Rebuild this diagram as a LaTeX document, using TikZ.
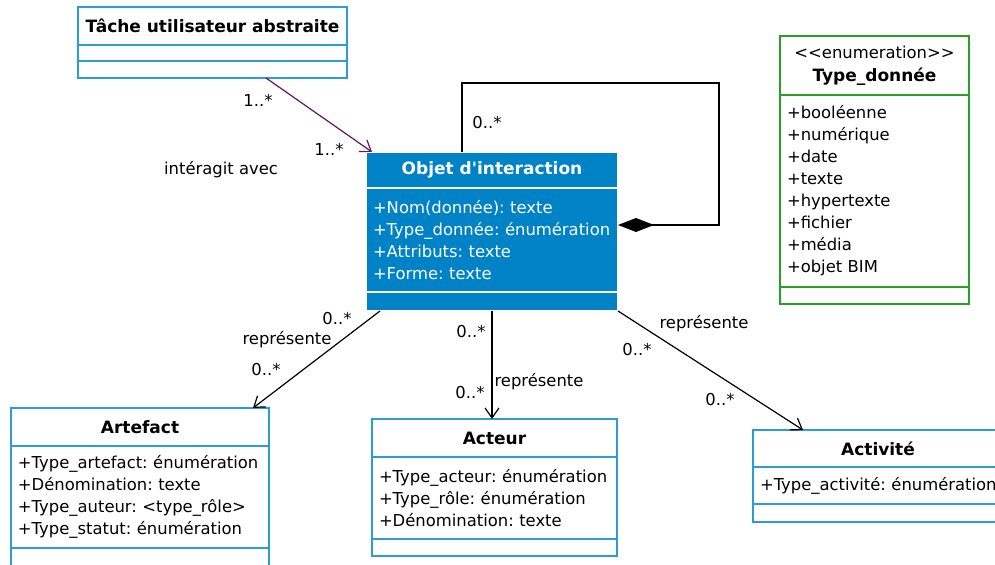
\documentclass[tikz,border=0pt]{standalone}
\usepackage{fontspec}
\setmainfont{DejaVu Sans}[Ligatures=TeXOff]
\usetikzlibrary{positioning,arrows.meta}

\definecolor{umlblue}{RGB}{45,155,215}
\definecolor{objblue}{RGB}{0,130,198}
\definecolor{enumgreen}{RGB}{40,160,40}
\definecolor{assocpurple}{RGB}{100,20,100}
\newcommand{\umlsize}{\fontsize{8.2}{11}\selectfont}
\newcommand{\headsize}{\fontsize{8.5}{11.5}\selectfont}

\begin{document}
\begin{tikzpicture}[x=0.5pt, y=-0.5pt, font=\umlsize,
    box/.style={draw=umlblue, line width=0.8pt, rectangle, inner sep=0pt, outer sep=0pt},
    head/.style={box, font=\headsize\bfseries, align=center},
    attrs/.style={box, align=left, inner xsep=3.5pt, execute at begin node={\hyphenpenalty=10000\exhyphenpenalty=10000}},
    objbox/.style={fill=objblue, draw=white, text=white},
    assoc/.style={line width=0.6pt, -{Straight Barb[length=5pt, width=7pt]}}]
    \useasboundingbox (0,0) rectangle (995,565);
    \clip (0,0) rectangle (995,565);

    \node[head, anchor=north west, minimum width=134.5pt, minimum height=19pt] (tache) at (78,7) {Tâche utilisateur abstraite};
    \node[box, below=0pt of tache, minimum width=134.5pt, minimum height=8pt] (tacheattr) {};
    \node[box, below=0pt of tacheattr, minimum width=134.5pt, minimum height=8.5pt] (tacheops) {};

    \node[head, objbox, anchor=north west, minimum width=126pt, minimum height=18pt] (objet) at (366,152) {Objet d'interaction};
    \node[attrs, objbox, below=0pt of objet, text width=119pt, minimum height=52pt] (objetattr) {+Nom(donnée):~texte\\+Type\_donnée:~énumération\\+Attributs:~texte\\+Forme:~texte};
    \node[box, objbox, below=0pt of objetattr, minimum width=126pt, minimum height=9.5pt] (objetops) {};

    \node[head, draw=enumgreen, anchor=north west, minimum width=94.5pt, minimum height=29.5pt] (typedonnee) at (780,36) {{\umlsize\mdseries <\kern0pt<enumeration>\kern0pt>}\\Type\_donnée};
    \node[attrs, draw=enumgreen, below=0pt of typedonnee, text width=87.5pt, minimum height=96pt] (typeitems) {+booléenne\\+numérique\\+date\\+texte\\+hypertexte\\+fichier\\+média\\+objet~BIM};
    \node[box, draw=enumgreen, below=0pt of typeitems, minimum width=94.5pt, minimum height=8.5pt] (typeops) {};

    \node[head, anchor=north west, minimum width=129pt, minimum height=19pt] (artefact) at (11,408) {Artefact};
    \node[attrs, below=0pt of artefact, text width=122pt, minimum height=51pt] (artefactattr) {+Type\_artefact:~énumération\\+Dénomination:~texte\\+Type\_auteur:~<type\_rôle>\\+Type\_statut:~énumération};
    \node[box, below=0pt of artefactattr, minimum width=129pt, minimum height=11pt] (artefactops) {};

    \node[head, anchor=north west, minimum width=122.5pt, minimum height=19pt] (acteur) at (372,419) {Acteur};
    \node[attrs, below=0pt of acteur, text width=115.5pt, minimum height=41pt] (acteurattr) {+Type\_acteur:~énumération\\+Type\_rôle:~énumération\\+Dénomination:~texte};
    \node[box, below=0pt of acteurattr, minimum width=122.5pt, minimum height=8.5pt] (acteurops) {};

    \node[head, anchor=north west, minimum width=125pt, minimum height=18.5pt] (activite) at (753,430) {Activité};
    \node[attrs, below=0pt of activite, text width=118pt, minimum height=18.5pt] (activiteattr) {+Type\_activité:~énumération};
    \node[box, below=0pt of activiteattr, minimum width=125pt, minimum height=9pt] (activiteops) {};

    \coordinate (loopcorner) at (719,83);
    \draw[line width=0.8pt, -{Diamond[length=18pt, width=7pt]}] ([xshift=48pt]objet.north west) |- (loopcorner) |- ([yshift=7.5pt]objetattr.east);
    \draw[assoc, color=assocpurple] ([xshift=26.75pt]tacheops.south) -- ([xshift=3pt]objet.north west);
    \draw[assoc] ([xshift=7pt]objetops.south west) -- ([xshift=-8pt]artefact.north east);
    \draw[assoc] (objetops.south) -- (objetops.south |- acteur.north);
    \draw[assoc] (objetops.south east) -- ([xshift=25pt]activite.north west);

    \node (mtachesrc) at (258,100) {1..*};
    \node (mtachedst) at (329,149) {1..*};
    \node (interagit) at (221,170) {intéragit avec};
    \node (mloop) at (487,123) {0..*};
    \node (martsrc) at (337,319) {0..*};
    \node (repart) at (287,340) {représente};
    \node (martdst) at (266,370) {0..*};
    \node (mactsrc) at (471,332) {0..*};
    \node (repact) at (539,382) {représente};
    \node (mactdst) at (470,393) {0..*};
    \node (repacv) at (704,324) {représente};
    \node (macvsrc) at (637,350) {0..*};
    \node (macvdst) at (720,400) {0..*};
\end{tikzpicture}
\end{document}
